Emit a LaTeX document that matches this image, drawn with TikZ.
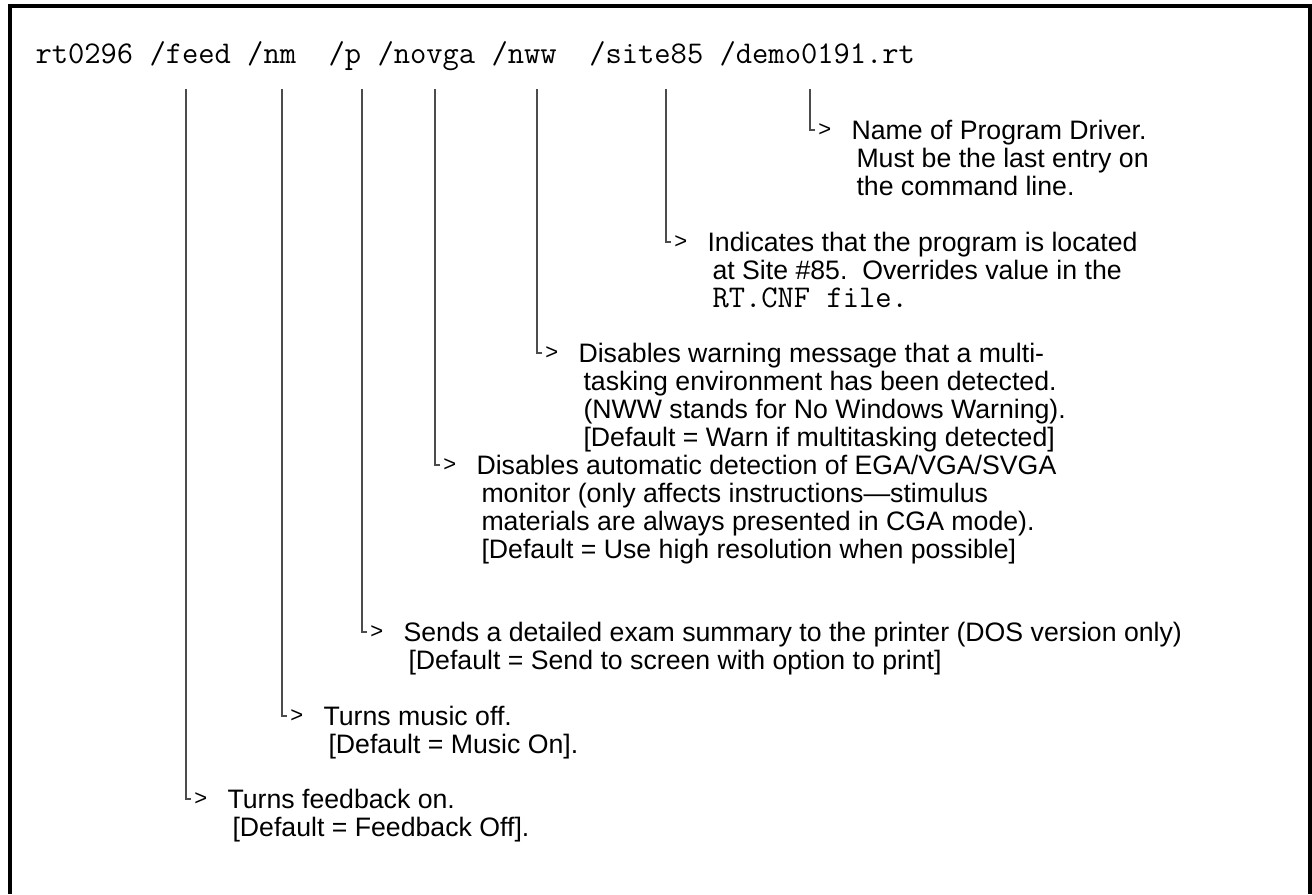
\documentclass[tikz,border=0pt]{standalone}
\usepackage{fontspec}
\setmainfont{Liberation Sans}
\usepackage{tikz}
\newcommand{\indln}{\hspace*{1.8pt}}

\begin{document}
\begin{tikzpicture}[x=0.3636pt,y=-0.3636pt]
\tikzstyle{optnote}=[anchor=base west,align=left,inner sep=0pt,font=\fontsize{9.7}{10.15}\selectfont]
\tikzstyle{optmark}=[anchor=west,inner xsep=1pt,inner ysep=0pt,font=\fontsize{8}{8}\selectfont]
\tikzstyle{stem}=[line width=0.55pt,black!70]
\useasboundingbox (0,0) rectangle (1312,894);
\draw[line width=1.2pt] (10,894) |- (1310,6) -- (1310,894);
\node[anchor=base west,inner sep=0pt,font=\ttfamily\fontsize{11.5}{11.5}\selectfont] at(35, 63) (cmd)
  {rt0296 /feed /nm~ /p /novga /nww~ /site85 /demo0191.rt};
% where the stems start
\coordinate (feedtop) at (186, 89);
\coordinate (nmtop) at (282, 89);
\coordinate (ptop) at (362, 89);
\coordinate (novgatop) at (435, 89);
\coordinate (nwwtop) at (537, 89);
\coordinate (sitetop) at (666, 89);
\coordinate (demotop) at (810, 89);
% /demo0191.rt (note is placed by its last line)
\node[optmark] at(815, 130) (demomark) {>};
\node[optnote] at(851, 195) (demonote) {Name of Program Driver.\\
  \indln Must be the last entry on\\
  \indln the command line.};
% /site85
\node[optmark] at(671, 242) (sitemark) {>};
\node[optnote] at(707, 307) (sitenote) {Indicates that the program is located\\
  \indln at Site \#85.\ \ Overrides value in the\\
  \indln \texttt{\fontsize{11.5}{11.5}\selectfont RT.CNF file.}};
% /nww
\node[optmark] at(542, 353) (nwwmark) {>};
\node[optnote] at(578, 446) (nwwnote) {Disables warning message that a multi-\\
  \indln tasking environment has been detected.\\
  \indln (NWW stands for No Windows Warning).\\
  \indln [Default = Warn if multitasking detected]};
% /novga
\node[optmark] at(440, 465) (novgamark) {>};
\node[optnote] at(476, 558) (novganote) {Disables automatic detection of EGA/VGA/SVGA\\
  \indln monitor (only affects instructions—stimulus\\
  \indln materials are always presented in CGA mode).\\
  \indln [Default = Use high resolution when possible]};
% /p
\node[optmark] at(367, 632) (pmark) {>};
\node[optnote] at(403, 669) (pnote) {Sends a detailed exam summary to the printer (DOS version only)\\
  \indln [Default = Send to screen with option to print]};
% /nm
\node[optmark] at(287, 716) (nmmark) {>};
\node[optnote] at(323, 753) (nmnote) {Turns music off.\\
  \indln [Default = Music On].};
% /feed
\node[optmark] at(191, 799) (feedmark) {>};
\node[optnote] at(227, 836) (feednote) {Turns feedback on.\\
  \indln [Default = Feedback Off].};
\draw[stem] (feedtop) |- (feedmark.west);
\draw[stem] (nmtop) |- (nmmark.west);
\draw[stem] (ptop) |- (pmark.west);
\draw[stem] (novgatop) |- (novgamark.west);
\draw[stem] (nwwtop) |- (nwwmark.west);
\draw[stem] (sitetop) |- (sitemark.west);
\draw[stem] (demotop) |- (demomark.west);
\end{tikzpicture}
\end{document}
